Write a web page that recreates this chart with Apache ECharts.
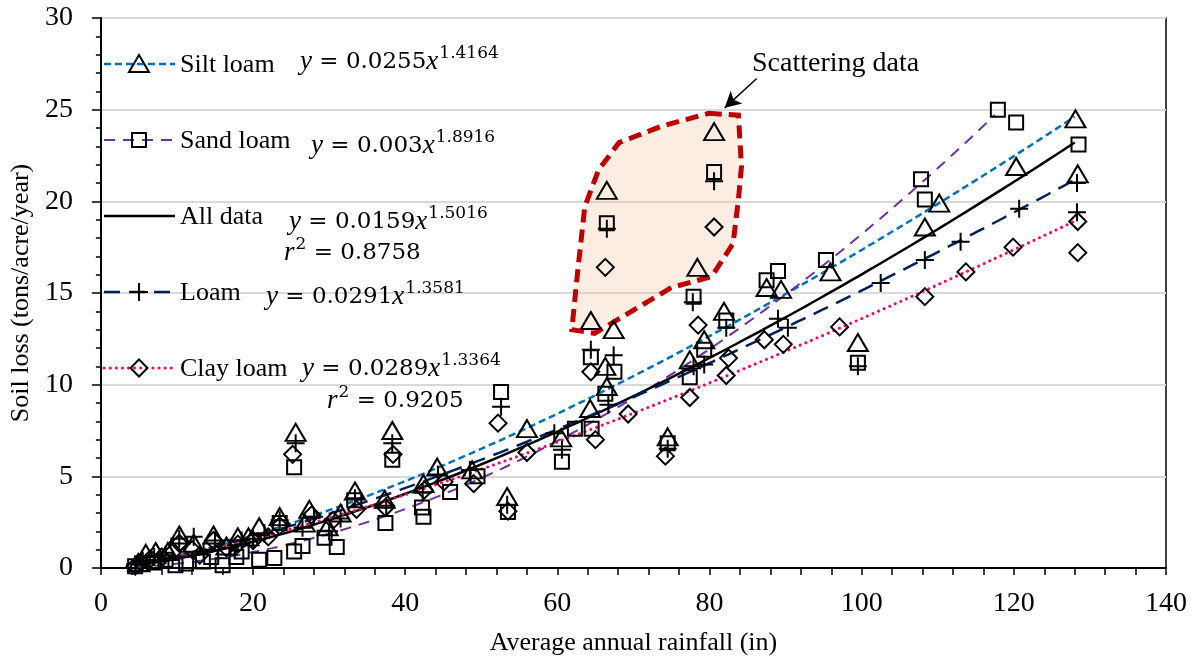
<!DOCTYPE html>
<html>
<head>
<meta charset="utf-8">
<script src="https://cdn.jsdelivr.net/npm/echarts@6/dist/echarts.min.js"></script>
<style>
  html, body { margin: 0; background: #fff; }
  #main { width: 1203px; height: 665px; }
</style>
</head>
<body>
<div id="main"></div>
<script>
// 各土壤类型的散点数据 [降雨量, 土壤流失]
var siltLoam = [[4.9,0.3],[5.9,0.8],[7.2,0.9],[8.8,0.9],[10.3,1.8],[12.2,1.35],[14.8,1.8],[16.5,1.2],[18,1.7],[19.4,1.7],[20.8,2.25],[23.5,2.8],[25.6,7.4],[26.8,2.45],[27.4,3.2],[29.8,2.25],[31.5,3.0],[33.4,4.2],[37.3,3.75],[38.3,7.5],[42.4,4.6],[44.2,5.5],[48.8,5.35],[53.4,3.9],[56,7.6],[60.5,7.1],[64.3,8.7],[64.4,13.5],[66.3,11.0],[66.5,9.9],[66.5,20.6],[67.4,13.0],[74.5,7.15],[77.4,11.35],[78.4,16.4],[79.3,12.45],[80.6,23.8],[81.9,14.0],[87.5,15.3],[89.4,15.2],[95.9,16.15],[99.5,12.3],[108.3,18.6],[110.2,19.9],[120.3,21.9],[128.1,24.5],[128.4,21.5]];
var sandLoam = [[4.5,0.1],[5.5,0.2],[7,0.3],[8.5,0.45],[9.8,0.15],[11.2,0.25],[13.4,0.35],[14.5,0.6],[16,0.15],[17.8,0.6],[18.5,0.9],[20.8,0.45],[22.8,0.55],[23.5,2.45],[25.4,0.9],[25.4,5.5],[26.5,1.2],[29.4,1.65],[31,1.15],[33.3,3.7],[37.4,2.45],[38.3,5.9],[42.2,3.3],[42.4,2.8],[45.9,4.15],[49.5,5.0],[52.6,9.6],[53.5,3.05],[60.6,5.8],[62.3,7.6],[64.5,7.6],[64.4,11.5],[66.3,9.5],[66.5,18.8],[67.5,10.7],[74.5,6.8],[77.4,10.4],[77.9,14.8],[79.3,11.9],[80.6,21.6],[82.2,13.5],[87.5,15.7],[89,16.2],[95.3,16.8],[99.5,11.2],[107.8,21.2],[108.3,20.1],[117.9,25.0],[120.3,24.3],[128.5,23.1]];
var loam = [[4.5,0.2],[5.5,0.4],[7,0.6],[8.5,0.7],[10.3,1.6],[12.2,1.7],[13.5,0.9],[15,1.5],[17,1.1],[18.5,1.5],[20,1.6],[21.5,1.9],[23.5,2.6],[25.6,6.8],[26.5,2.2],[28,2.8],[30,2.0],[31.5,2.7],[33.4,3.8],[37.5,3.4],[38.3,6.8],[42.3,4.1],[44.3,5.1],[48.5,5.35],[52.6,8.8],[53.4,3.45],[59.6,7.35],[60.6,6.45],[64.4,11.9],[66.5,18.5],[66.7,8.9],[67.4,11.6],[74.5,6.5],[77.8,14.5],[77.9,11.0],[79.3,11.1],[80.6,21.1],[82.2,13.1],[89,13.6],[90.3,13.1],[99.5,11.0],[102.5,15.55],[108.3,16.8],[113,17.8],[120.7,19.6],[128.3,21.0],[128.3,19.4]];
var clayLoam = [[4.5,0.1],[5.2,0.3],[6.5,0.5],[8,0.6],[9.5,0.9],[10.3,1.35],[12,1.0],[13,0.7],[14.8,1.5],[16.5,1.1],[18,1.3],[20,1.5],[22,1.7],[23.5,2.3],[25.2,6.2],[27.7,2.9],[30.5,2.6],[33.6,3.2],[37.4,3.3],[38.4,6.2],[42.5,4.25],[45.1,4.7],[49,4.6],[52.2,7.9],[53.5,3.1],[56,6.3],[64.4,10.7],[65,7.0],[66.3,16.4],[69.3,8.4],[74.2,6.1],[77.4,9.3],[78.5,13.25],[80.6,18.6],[82.2,10.5],[82.5,11.45],[87.2,12.45],[89.7,12.2],[97.1,13.15],[108.3,14.8],[113.7,16.15],[119.9,17.5],[128.4,18.9],[128.4,17.2]];

// 幂函数拟合 y = a * x^b（图中给出的方程）
var fitNames = ['Silt loam', 'Sand loam', 'All data', 'Loam', 'Clay loam'];
var fitA = [0.0255, 0.003, 0.0159, 0.0291, 0.0289];
var fitB = [1.4164, 1.8916, 1.5016, 1.3581, 1.3364];
var fitStart = [4.5, 4.5, 4.5, 4.5, 4.5];
var fitEnd = [128, 117.5, 128, 128, 128];

// "Scattering data" 标注区域轮廓
var outline = [[79.9,24.8],[83.8,24.7],[84.2,21.9],[83.8,20.1],[83.1,17.7],[80.3,15.9],[75.0,15.3],[64.9,12.8],[61.9,13.0],[62.6,15.9],[63.6,19.7],[65.4,21.7],[68.1,23.2],[73.7,24.1]];
var arrowFrom = [86.2, 26.7];
var arrowTo = [82.0, 25.1];

var xTicks = [0, 20, 40, 60, 80, 100, 120, 140];
var yTicks = [0, 5, 10, 15, 20, 25, 30];

var chart = echarts.init(document.getElementById('main'));

function fitCurve(i) {
    var pts = [];
    for (var x = fitStart[i]; x < fitEnd[i]; x += 1) {
        pts.push([x, fitA[i] * Math.pow(x, fitB[i])]);
    }
    pts.push([fitEnd[i], fitA[i] * Math.pow(fitEnd[i], fitB[i])]);
    return pts;
}

var serif = 'Liberation Serif';
var plusPath = 'path://M0,10L20,10M10,0L10,20';
var lineStyles = [
    { color: '#0070C0', width: 2.5, type: [7, 4] },
    { color: '#7030A0', width: 2, type: [11, 8] },
    { color: '#000000', width: 2.5, type: 'solid' },
    { color: '#002060', width: 2.5, type: [16, 9] },
    { color: '#FF0066', width: 3, type: [0.1, 6], cap: 'round' }
];

// 空心标记，散点默认透明度为 0.8，这里改成 1
var hollow = { color: 'rgba(0,0,0,0)', borderColor: '#000', borderWidth: 2, opacity: 1 };

var series = [];

// 标注区域
series.push({
    type: 'custom',
    z: 1,
    silent: true,
    data: [0],
    renderItem: function (params, api) {
        return {
            type: 'polygon',
            shape: { points: outline.map(function (p) { return api.coord(p); }) },
            style: { fill: 'rgba(246,196,160,0.3)', stroke: '#C00000', lineWidth: 5, lineDash: [13, 7] }
        };
    },
    markLine: {
        silent: true,
        symbol: ['none', 'arrow'],
        symbolSize: [13, 16],
        label: { show: false },
        lineStyle: { color: '#000', width: 1.5, type: 'solid' },
        data: [[{ coord: arrowFrom }, { coord: arrowTo }]]
    }
});

// 拟合曲线
fitNames.forEach(function (name, i) {
    series.push({
        name: name + ' fit',
        type: 'line',
        z: 3,
        showSymbol: false,
        silent: true,
        data: fitCurve(i),
        lineStyle: lineStyles[i]
    });
});

// 散点
series.push({ name: 'Silt loam', type: 'scatter', z: 4, symbol: 'triangle', symbolSize: [20, 17], itemStyle: hollow, data: siltLoam });
series.push({ name: 'Sand loam', type: 'scatter', z: 4, symbol: 'rect', symbolSize: 14, itemStyle: hollow, data: sandLoam });
series.push({ name: 'Loam', type: 'scatter', z: 4, symbol: plusPath, symbolSize: 18, itemStyle: hollow, data: loam });
series.push({ name: 'Clay loam', type: 'scatter', z: 4, symbol: 'diamond', symbolSize: 17, itemStyle: hollow, data: clayLoam });

// 图例（手绘）
var legendRows = [
    { y: 64, text: 'Silt loam', mark: 'tri' },
    { y: 140, text: 'Sand loam', mark: 'rect' },
    { y: 216, text: 'All data', mark: null },
    { y: 292, text: 'Loam', mark: 'plus' },
    { y: 368, text: 'Clay loam', mark: 'dia' }
];
var graphic = [];
legendRows.forEach(function (row, i) {
    var ls = lineStyles[i];
    graphic.push({
        type: 'line', z: 10,
        shape: { x1: 104, y1: row.y, x2: 175, y2: row.y },
        style: { stroke: ls.color, lineWidth: ls.width, lineDash: ls.type === 'solid' ? null : ls.type, lineCap: ls.cap || 'butt' }
    });
    var cx = 139, cy = row.y;
    if (row.mark === 'tri') {
        graphic.push({ type: 'polygon', z: 11, shape: { points: [[cx, cy - 9], [cx + 10, cy + 8], [cx - 10, cy + 8]] }, style: { fill: 'none', stroke: '#000', lineWidth: 2 } });
    } else if (row.mark === 'rect') {
        graphic.push({ type: 'rect', z: 11, shape: { x: cx - 7, y: cy - 7, width: 14, height: 14 }, style: { fill: 'none', stroke: '#000', lineWidth: 2 } });
    } else if (row.mark === 'plus') {
        graphic.push({ type: 'line', z: 11, shape: { x1: cx - 9, y1: cy, x2: cx + 9, y2: cy }, style: { stroke: '#000', lineWidth: 2 } });
        graphic.push({ type: 'line', z: 11, shape: { x1: cx, y1: cy - 9, x2: cx, y2: cy + 9 }, style: { stroke: '#000', lineWidth: 2 } });
    } else if (row.mark === 'dia') {
        graphic.push({ type: 'polygon', z: 11, shape: { points: [[cx, cy - 8.5], [cx + 8.5, cy], [cx, cy + 8.5], [cx - 8.5, cy]] }, style: { fill: 'none', stroke: '#000', lineWidth: 2 } });
    }
    graphic.push({
        type: 'text', z: 11,
        style: { x: 180, y: row.y + 1, text: row.text, fill: '#000', font: '26px "Liberation Serif"', verticalAlign: 'middle' }
    });
});

// 方程文字
var eqRich = {
    i: { fontFamily: serif, fontStyle: 'italic', fontSize: 27, lineHeight: 34 },
    n: { fontFamily: 'DejaVu Serif', fontSize: 23, lineHeight: 34 },
    s: { fontFamily: 'DejaVu Serif', fontSize: 17, verticalAlign: 'top', lineHeight: 34, padding: [0, 0, 0, 1] }
};
function eq(x, y, a, b) {
    return {
        type: 'text', z: 11,
        style: {
            x: x, y: y, verticalAlign: 'middle', fill: '#000',
            text: '{i|y}{n| = ' + a + '}{i|x}{s|' + b + '}',
            rich: eqRich
        }
    };
}
function r2(x, y, v) {
    return {
        type: 'text', z: 11,
        style: {
            x: x, y: y, verticalAlign: 'middle', fill: '#000',
            text: '{i|r}{s|2}{n| = ' + v + '}',
            rich: eqRich
        }
    };
}
graphic.push(eq(300, 62, '0.0255', '1.4164'));
graphic.push(eq(311, 146, '0.003', '1.8916'));
graphic.push(eq(289, 222, '0.0159', '1.5016'));
graphic.push(r2(284, 253, '0.8758'));
graphic.push(eq(266, 297, '0.0291', '1.3581'));
graphic.push(eq(302, 369, '0.0289', '1.3364'));
graphic.push(r2(327, 401, '0.9205'));

graphic.push({
    type: 'text', z: 11,
    style: { x: 752, y: 64, text: 'Scattering data', fill: '#000', font: '28px "Liberation Serif"', verticalAlign: 'middle' }
});

var option = {
    animation: false,
    backgroundColor: '#fff',
    grid: { left: 100, right: 37, top: 18, bottom: 97, show: true, borderColor: '#000', borderWidth: 1.5 },
    xAxis: {
        type: 'value', min: xTicks[0], max: xTicks[xTicks.length - 1], interval: 20,
        name: 'Average annual rainfall (in)', nameLocation: 'middle', nameGap: 62,
        nameTextStyle: { fontFamily: serif, fontSize: 26, color: '#000' },
        axisLine: { onZero: false, lineStyle: { color: '#000', width: 2 } },
        axisTick: { show: true, length: 7, lineStyle: { color: '#000', width: 1.5 } },
        minorTick: { show: true, splitNumber: 5, length: 7, lineStyle: { color: '#000', width: 1.5 } },
        axisLabel: { fontFamily: serif, fontSize: 28, color: '#000', margin: 22 },
        splitLine: { show: false }
    },
    yAxis: {
        type: 'value', min: yTicks[0], max: yTicks[yTicks.length - 1], interval: 5,
        name: 'Soil loss (tons/acre/year)', nameLocation: 'middle', nameGap: 64,
        nameTextStyle: { fontFamily: serif, fontSize: 26, color: '#000' },
        axisLine: { show: true, onZero: false, lineStyle: { color: '#000', width: 2 } },
        axisTick: { show: true, length: 9, lineStyle: { color: '#000', width: 1.5 } },
        minorTick: { show: true, splitNumber: 5, length: 5, lineStyle: { color: '#000', width: 1.5 } },
        axisLabel: { fontFamily: serif, fontSize: 28, color: '#000', margin: 28 },
        splitLine: { show: true, lineStyle: { color: '#D9D9D9', width: 2 } }
    },
    series: series,
    graphic: graphic
};

chart.setOption(option);
</script>
</body>
</html>
